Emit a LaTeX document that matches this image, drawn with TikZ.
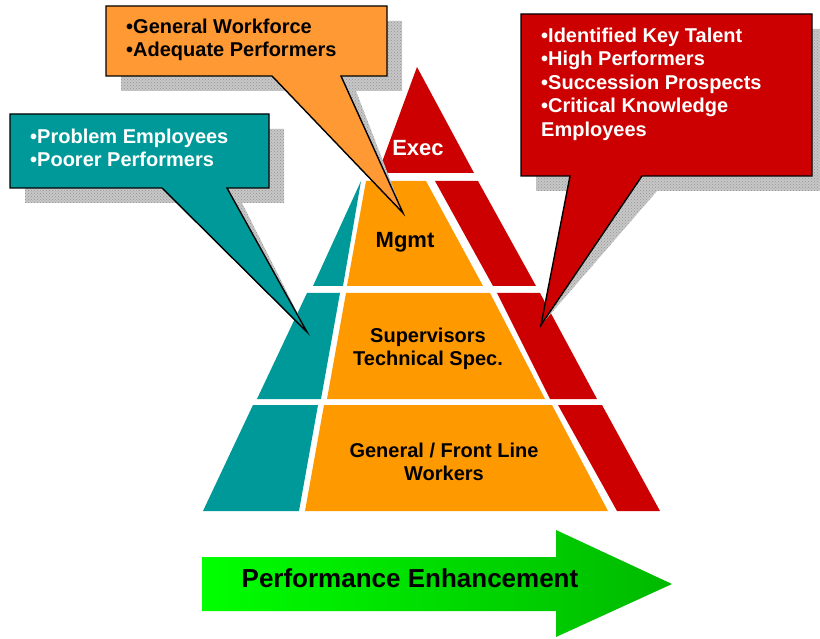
\documentclass[tikz,border=0pt]{standalone}
\usepackage{fontspec}
\setmainfont{Liberation Sans}
\usetikzlibrary{patterns}
\definecolor{tealfill}{RGB}{0,153,153}
\definecolor{tierfill}{RGB}{255,153,0}
\definecolor{orangefill}{RGB}{255,153,51}
\definecolor{redfill}{RGB}{204,0,0}
\definecolor{brightgreen}{RGB}{0,255,0}
\definecolor{deepgreen}{RGB}{0,185,0}

\begin{document}
\begin{tikzpicture}[x=1pt, y=-1pt,
  main node/.style={font=\fontsize{20}{23.5}\selectfont\bfseries, align=center, inner sep=0pt},
  top node/.style={main node, font=\fontsize{22}{26}\selectfont\bfseries},
  bubble text/.style={main node, align=left, anchor=north west},
  callout/.style={draw=black, line width=1.4pt, line join=miter},
  shadow/.style={fill=black!22, postaction={pattern=crosshatch dots, pattern color=black!42}}]
  \useasboundingbox (0,0) rectangle (820,639);

  \fill[tealfill] (361,181) -- (343,286) -- (313,286) -- cycle;
  \fill[tealfill] (307,293) -- (340,293) -- (321,399) -- (257,399) -- cycle;
  \fill[tealfill] (253,405) -- (318,405) -- (299,511) -- (203,511) -- cycle;

  \fill[tierfill] (366,181) -- (426,181) -- (483,286) -- (347,286) -- cycle;
  \fill[tierfill] (346,293) -- (490,293) -- (545,399) -- (327,399) -- cycle;
  \fill[tierfill] (324,405) -- (552,405) -- (608,511) -- (305,511) -- cycle;

  \fill[redfill] (417,67) -- (474,173) -- (378,173) -- cycle;
  \fill[redfill] (435,181) -- (478,181) -- (536,286) -- (493,286) -- cycle;
  \fill[redfill] (497,293) -- (540,293) -- (597,399) -- (550,399) -- cycle;
  \fill[redfill] (558,405) -- (602,405) -- (660,511) -- (617,511) -- cycle;

  \node[top node, text=white] (exec) at (418,148) {Exec};
  \node[top node] (mgmt) at (405,242) {Mgmt};
  \node[main node] (sup) at (428,349) {Supervisors\\Technical Spec.};
  \node[main node] (front) at (444,462) {General / Front Line\\Workers};

  \coordinate (tip1) at (307,332);
  \coordinate (tip2) at (403,213);
  \coordinate (tip3) at (541,325);

  \fill[shadow, shift={(15,15)}] (10,114) -- (269,114) -- (269,188) -- (227,188) -- (tip1) -- (162,188) -- (10,188) -- cycle;
  \filldraw[callout, fill=tealfill] (10,114) -- (269,114) -- (269,188) -- (227,188) -- (tip1) -- (162,188) -- (10,188) -- cycle;
  \node[bubble text, text=white] (poor) at (30,128.5) {\textbullet Problem Employees\\\textbullet Poorer Performers};

  \fill[shadow, shift={(15,15)}] (106,6) -- (387,6) -- (387,76) -- (341,76) -- (tip2) -- (272,76) -- (106,76) -- cycle;
  \filldraw[callout, fill=orangefill] (106,6) -- (387,6) -- (387,76) -- (341,76) -- (tip2) -- (272,76) -- (106,76) -- cycle;
  \node[bubble text] (adequate) at (126,18.5) {\textbullet General Workforce\\\textbullet Adequate Performers};

  \fill[shadow, shift={(15,15)}] (521,14) -- (812,14) -- (812,176) -- (642,176) -- (tip3) -- (570,176) -- (521,176) -- cycle;
  \filldraw[callout, fill=redfill] (521,14) -- (812,14) -- (812,176) -- (642,176) -- (tip3) -- (570,176) -- (521,176) -- cycle;
  \node[bubble text, text=white] (talent) at (541,27.5) {\textbullet Identified Key Talent\\\textbullet High Performers\\\textbullet Succession Prospects\\\textbullet Critical Knowledge\\Employees};

  \shade[left color=brightgreen, right color=deepgreen] (202,557) -- (556,557) -- (556,530) -- (672,584) -- (556,637) -- (556,611) -- (202,611) -- cycle;
  \node[main node, font=\fontsize{26}{30}\selectfont\bfseries] (perf) at (410,578) {Performance Enhancement};
\end{tikzpicture}
\end{document}
